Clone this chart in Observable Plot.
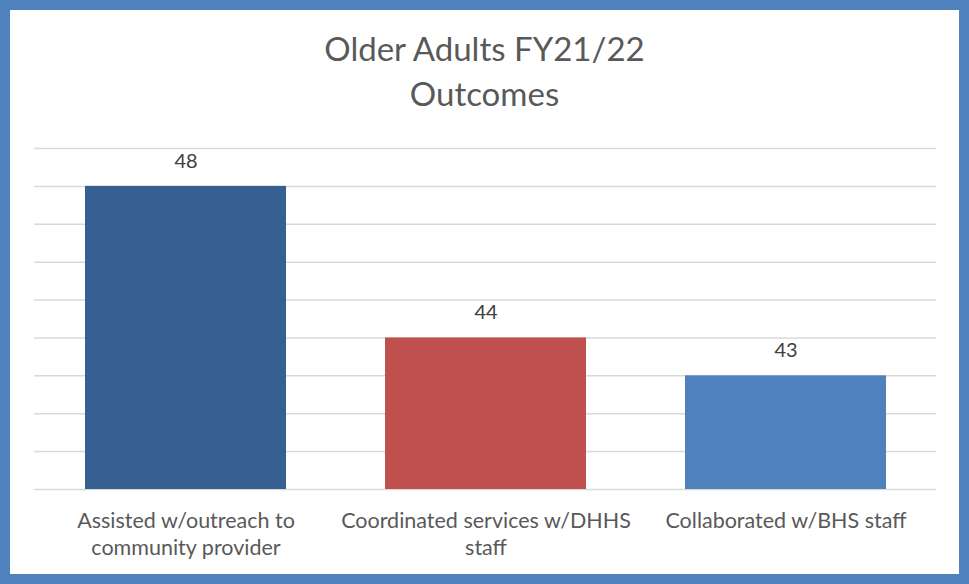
<!DOCTYPE html>
<html>
<head>
<meta charset="utf-8">
<script src="https://cdn.jsdelivr.net/npm/d3@7"></script>
<script src="https://cdn.jsdelivr.net/npm/@observablehq/plot@0.6"></script>
<style>
  html, body { margin: 0; padding: 0; background: #fff; }
  #frame {
    width: 969px; height: 584px; box-sizing: border-box;
    border: 10px solid #4F81BD; background: #fff; overflow: hidden;
    font-family: Lato, "Open Sans", sans-serif;
  }
  #title {
    height: 118px; box-sizing: border-box; padding-top: 16px;
    text-align: center; color: #595959; font-size: 33px; line-height: 45px;
  }
  svg { display: block; }
</style>
</head>
<body>
<div id="frame">
  <div id="title">Older Adults FY21/22<br>Outcomes</div>
  <div id="chart"></div>
</div>
<script>
const categories = [
  "Assisted w/outreach to community provider",
  "Coordinated services w/DHHS staff",
  "Collaborated w/BHS staff"
];
const tickLabels = [
  "Assisted w/outreach to\ncommunity provider",
  "Coordinated services w/DHHS\nstaff",
  "Collaborated w/BHS staff"
];
const values = [48, 44, 43];
const colors = ["#366092", "#C0504D", "#4F81BD"];
const yTicks = [40, 41, 42, 43, 44, 45, 46, 47, 48, 49];
const yMin = 40;

const data = categories.map((c, i) => ({category: c, value: values[i], color: colors[i], label: tickLabels[i]}));
const labelOf = new Map(data.map(d => [d.category, d.label]));

const chart = Plot.plot({
  width: 949,
  height: 446,
  marginLeft: 24,
  marginRight: 23,
  marginTop: 20,
  marginBottom: 85,
  style: {fontFamily: 'Lato, "Open Sans", sans-serif', background: "#fff"},
  x: {domain: categories, paddingInner: 0.33, paddingOuter: 0.165, label: null},
  y: {domain: [yTicks[0], yTicks[yTicks.length - 1]], label: null},
  marks: [
    Plot.gridY(yTicks, {stroke: "#d9d9d9", strokeOpacity: 1, strokeWidth: 1.5}),
    Plot.barY(data, {x: "category", y1: yMin, y2: "value", fill: "color"}),
    Plot.text(data, {x: "category", y: "value", text: d => String(d.value), dy: -25, lineAnchor: "middle", fontSize: 20, fill: "#404040"}),
    Plot.axisX({tickSize: 0, tickPadding: 19, fontSize: 21.5, lineHeight: 1.26, color: "#595959", tickFormat: c => labelOf.get(c)}),
    Plot.axisY({ticks: [], tickSize: 0, label: null})
  ]
});
document.getElementById("chart").appendChild(chart);
</script>
</body>
</html>
